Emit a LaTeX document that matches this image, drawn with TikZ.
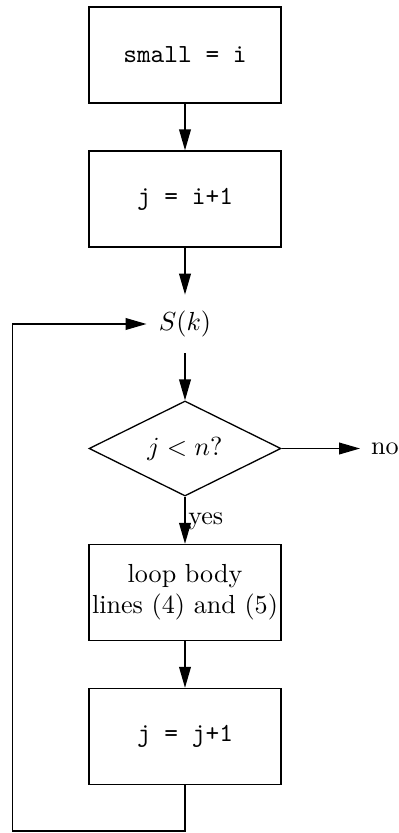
\documentclass[tikz,border=0pt]{standalone}
\usetikzlibrary{shapes.geometric,arrows.meta}
\begin{document}
\begin{tikzpicture}[x=0.383pt,y=-0.383pt,
  box/.style={draw, rectangle, minimum width=73.5pt, minimum height=36.8pt, inner sep=1pt, align=center},
  dec/.style={draw, diamond, aspect=2, minimum width=73.5pt, minimum height=36.4pt, inner sep=1pt},
  arr/.style={-{Triangle[length=8pt,width=4.5pt]}},
  line width=0.5pt]
\useasboundingbox (0,0) rectangle (399,833);
\node[box] (b1) at (185,55) {\ttfamily small = i};
\node[box] (b2) at (185,199) {\ttfamily j = i+1};
\node[inner xsep=4.5pt, minimum height=22pt] (s) at (185,324) {$S(k)$};
\node[dec] (d) at (185,448.5) {$j<n?$};
\node[anchor=west, inner sep=4pt] (no) at (360,448.5) {no};
\node[box] (b3) at (185,592.5) {loop body\\lines (4) and (5)};
\node[box] (b4) at (185,736.5) {\ttfamily j = j+1};
\coordinate (c1) at (185,831);
\coordinate (c2) at (12.5,831);
\coordinate (c3) at (12.5,324);
\draw[arr] (b1) -- (b2);
\draw[arr] (b2) -- (s);
\draw[arr] (s) -- (d);
\draw[arr] (d) -- (no);
\draw[arr] (d) -- node[right, inner sep=1pt, pos=0.52] (yes) {yes} (b3);
\draw[arr] (b3) -- (b4);
\draw[arr] (b4.south) -- (c1) -- (c2) -- (c3) -- (s.west);
\end{tikzpicture}
\end{document}
